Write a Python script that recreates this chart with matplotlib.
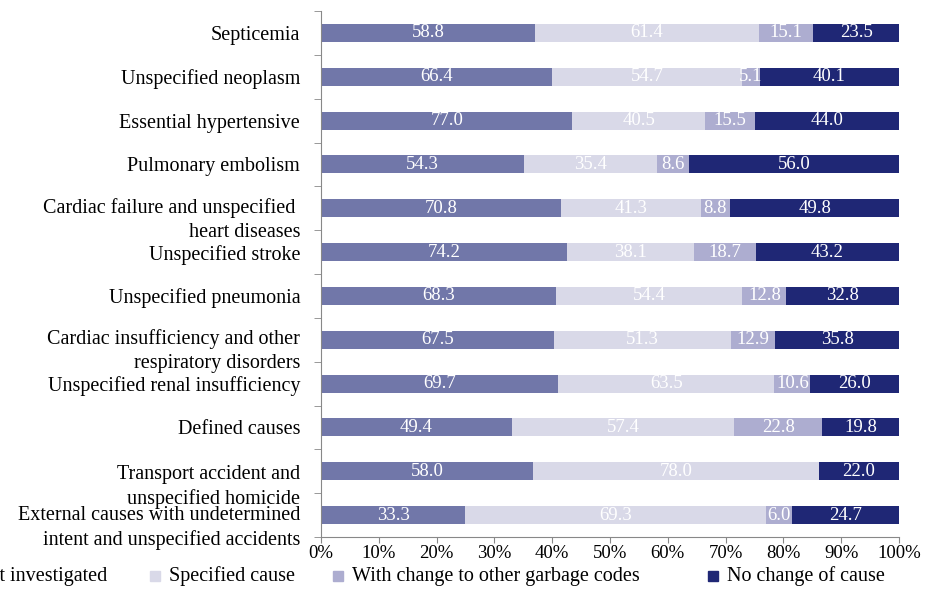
import matplotlib
matplotlib.use("Agg")
import matplotlib.pyplot as plt
import matplotlib.transforms as mtransforms
from matplotlib.patches import Rectangle
import numpy as np

categories = [
    "Septicemia",
    "Unspecified neoplasm",
    "Essential hypertensive",
    "Pulmonary embolism",
    "Cardiac failure and unspecified \nheart diseases",
    "Unspecified stroke",
    "Unspecified pneumonia",
    "Cardiac insufficiency and other\nrespiratory disorders",
    "Unspecified renal insufficiency",
    "Defined causes",
    "Transport accident and\nunspecified homicide",
    "External causes with undetermined\nintent and unspecified accidents",
]
not_investigated = [58.8, 66.4, 77.0, 54.3, 70.8, 74.2, 68.3, 67.5, 69.7, 49.4, 58.0, 33.3]
specified_cause = [61.4, 54.7, 40.5, 35.4, 41.3, 38.1, 54.4, 51.3, 63.5, 57.4, 78.0, 69.3]
other_garbage = [15.1, 5.1, 15.5, 8.6, 8.8, 18.7, 12.8, 12.9, 10.6, 22.8, 0.0, 6.0]
no_change = [23.5, 40.1, 44.0, 56.0, 49.8, 43.2, 32.8, 35.8, 26.0, 19.8, 22.0, 24.7]
series_names = ["Not investigated", "Specified cause",
                "With change to other garbage codes", "No change of cause"]
colors = ["#7177A9", "#D9D9E8", "#ADADD0", "#1F2775"]
xticks = [0, 10, 20, 30, 40, 50, 60, 70, 80, 90, 100]

serif = ["Liberation Serif", "DejaVu Serif"]
plt.rcParams["font.family"] = serif

fig = plt.figure(figsize=(9.30, 6.11), dpi=100)
ax = fig.add_axes([321 / 930, 1 - 537 / 611, (899 - 321) / 930, (537 - 11) / 611])

series = [not_investigated, specified_cause, other_garbage, no_change]
data = np.array(series, dtype=float)
totals = data.sum(axis=0)
pct = data / totals * 100
y = np.arange(len(categories))
left = np.zeros(len(categories))
for i in range(4):
    ax.barh(y, pct[i], left=left, height=0.41, color=colors[i], edgecolor="none")
    for j in range(len(categories)):
        v = data[i, j]
        if v > 0:
            ax.text(left[j] + pct[i, j] / 2, y[j], f"{v:.1f}", ha="center",
                    va="center", color="white", fontsize=13.5)
    left += pct[i]

ax.set_ylim(len(categories) - 0.5, -0.5)
ax.set_xlim(0, 100)
ax.set_xticks(xticks)
ax.set_xticklabels([f"{t}%" for t in xticks], fontsize=13.5)
ax.set_yticks(y)
ax.set_yticklabels(categories, fontsize=14.5, linespacing=1.35)
ax.set_yticks(np.arange(-0.5, len(categories), 1), minor=True)
ax.tick_params(axis="y", which="major", length=0, pad=15)
ax.tick_params(axis="y", which="minor", length=5, color="#888888", direction="out")
ax.tick_params(axis="x", which="major", length=4, color="#888888", direction="out", pad=2)
offsets = {4: 7, 7: 6, 10: 10.5, 11: 7.5}
for idx, lab in enumerate(ax.get_yticklabels()):
    if idx in offsets:
        lab.set_transform(lab.get_transform() + mtransforms.ScaledTranslation(0, -offsets[idx] / 100, fig.dpi_scale_trans))
for s in ["top", "right"]:
    ax.spines[s].set_visible(False)
for s in ["left", "bottom"]:
    ax.spines[s].set_color("#888888")

# legend
leg_y = 1 - 576 / 611
mark_x = [-44, 150, 333, 708]
for name, c, mx in zip(series_names, colors, mark_x):
    fig.patches.append(Rectangle((mx / 930, leg_y - 5 / 611), 10 / 930, 10 / 611,
                                 transform=fig.transFigure, color=c))
    fig.text((mx + 19) / 930, leg_y, name, va="center", ha="left", fontsize=14.5)

fig.savefig("out.png", dpi=100)
